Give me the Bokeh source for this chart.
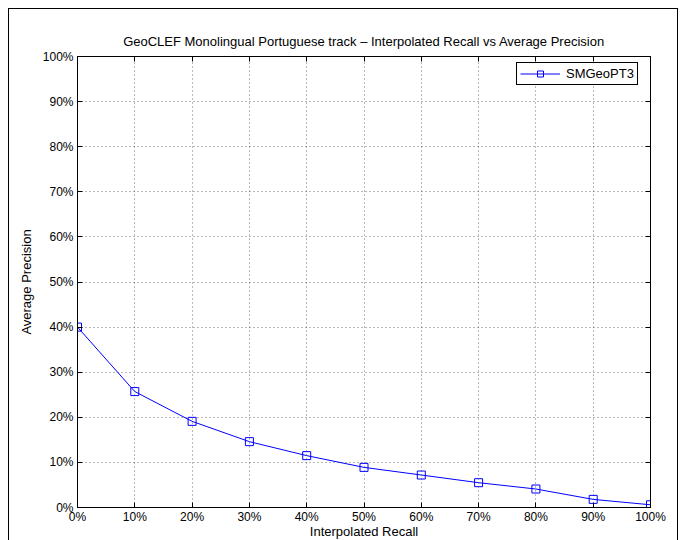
from bokeh.plotting import figure
from bokeh.models import LinearAxis, FixedTicker, Range1d, Legend, LegendItem, CustomJSTickFormatter
from bokeh.embed import file_html
from bokeh.resources import INLINE

recall = [0, 10, 20, 30, 40, 50, 60, 70, 80, 90, 100]
precision = [40.0, 25.7, 19.1, 14.6, 11.5, 8.9, 7.2, 5.5, 4.1, 1.8, 0.6]
series_name = "SMGeoPT3"
x_ticks = [0, 10, 20, 30, 40, 50, 60, 70, 80, 90, 100]
x_tick_labels = ["0%", "10%", "20%", "30%", "40%", "50%", "60%", "70%", "80%", "90%", "100%"]
y_ticks = [0, 10, 20, 30, 40, 50, 60, 70, 80, 90, 100]
y_tick_labels = ["0%", "10%", "20%", "30%", "40%", "50%", "60%", "70%", "80%", "90%", "100%"]

FONT = "Liberation Sans"

p = figure(width=670, height=532, output_backend="svg", toolbar_location=None,
           x_range=Range1d(0, 100), y_range=Range1d(0, 100),
           min_border_left=68, min_border_right=29, min_border_top=47, min_border_bottom=30,
           x_axis_label="Interpolated Recall", y_axis_label="Average Precision")
p.styles = {"margin-left": "8px", "margin-top": "8px",
            "border-left": "1px solid black", "border-top": "1px solid black",
            "border-right": "1px solid black"}

p.title.text = "GeoCLEF Monolingual Portuguese track \u2013 Interpolated Recall vs Average Precision"
p.title.align = "center"
p.title.text_font = FONT
p.title.text_font_size = "13px"
p.title.text_font_style = "normal"
p.title.text_color = "black"
p.title.standoff = 15

p.outline_line_color = "black"
p.outline_line_width = 1
p.outline_line_alpha = 1

for ax, ticks, labels in [(p.xaxis[0], x_ticks, x_tick_labels), (p.yaxis[0], y_ticks, y_tick_labels)]:
    ax.ticker = FixedTicker(ticks=ticks)
    ax.major_label_overrides = {t: l for t, l in zip(ticks, labels)}
    ax.major_tick_in = 5
    ax.major_tick_out = 0
    ax.minor_tick_line_color = None
    ax.axis_line_color = "black"
    ax.major_tick_line_color = "black"
    ax.major_label_text_font = FONT
    ax.major_label_text_font_size = "12px"
    ax.major_label_text_color = "black"
    ax.axis_label_text_font = FONT
    ax.axis_label_text_font_size = "13px"
    ax.axis_label_text_font_style = "normal"
    ax.axis_label_text_color = "black"

p.xaxis[0].major_label_standoff = 2
p.xaxis[0].axis_label_standoff = -3
p.yaxis[0].major_label_standoff = 4
p.yaxis[0].axis_label_standoff = 6

blank = CustomJSTickFormatter(code="return ''")
top = LinearAxis(ticker=FixedTicker(ticks=x_ticks), major_tick_in=5, major_tick_out=0,
                 minor_tick_line_color=None, formatter=blank, major_label_standoff=0,
                 axis_line_color="black")
right = LinearAxis(ticker=FixedTicker(ticks=y_ticks), major_tick_in=5, major_tick_out=0,
                   minor_tick_line_color=None, formatter=blank, major_label_standoff=0,
                   axis_line_color="black")
p.add_layout(top, "above")
p.add_layout(right, "right")

for g in (p.xgrid[0], p.ygrid[0]):
    g.ticker = FixedTicker(ticks=x_ticks)
    g.grid_line_color = "#333333"
    g.grid_line_alpha = 0.7
    g.grid_line_dash = "1 3"
    g.grid_line_width = 1

ln = p.line(recall, precision, line_color="#0000ff", line_width=1)
sc = p.scatter(recall, precision, marker="square", size=8, line_color="#0000ff",
               fill_color=None, line_width=1)

legend = Legend(items=[LegendItem(label=series_name, renderers=[ln, sc])],
                location=(439, 422), margin=0,
                border_line_color="black", border_line_width=1, border_line_alpha=1,
                label_text_font=FONT, label_text_font_size="13px", label_text_color="black",
                glyph_width=40, glyph_height=15, padding=3, spacing=0,
                label_standoff=6, background_fill_alpha=1)
p.add_layout(legend)

open("out.html", "w").write(file_html(p, INLINE))
